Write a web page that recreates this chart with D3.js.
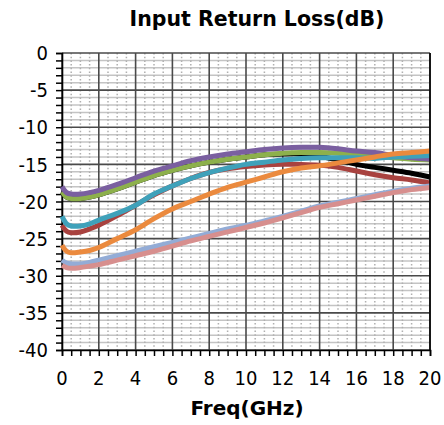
<!DOCTYPE html>
<html>
<head>
<meta charset="utf-8">
<script src="https://cdn.jsdelivr.net/npm/d3@7"></script>
<style>
  body { margin: 0; background: #fff; }
  svg text { font-family: "DejaVu Sans", sans-serif; }
</style>
</head>
<body>
<div id="chart"></div>
<script>
const freq = [0, 0.25, 0.5, 1, 1.5, 2, 3, 4, 5, 6, 7, 8, 9, 10, 11, 12, 13, 14, 15, 16, 17, 18, 19, 20];

const black  = [-18.7, -19.4, -19.6, -19.6, -19.4, -19.1, -18.3, -17.4, -16.5, -15.8, -15.2, -14.7, -14.3, -14.0, -13.7, -13.6, -13.6, -13.9, -14.4, -15.0, -15.4, -15.8, -16.2, -16.7];
const red    = [-23.2, -24.0, -24.2, -24.1, -23.7, -23.2, -21.9, -20.5, -19.1, -17.9, -16.9, -16.1, -15.6, -15.3, -15.1, -15.0, -15.0, -15.1, -15.4, -15.9, -16.4, -16.8, -17.1, -17.5];
const green  = [-18.7, -19.4, -19.6, -19.6, -19.4, -19.1, -18.3, -17.4, -16.5, -15.8, -15.2, -14.7, -14.3, -14.0, -13.7, -13.5, -13.4, -13.4, -13.5, -13.7, -13.9, -14.1, -14.3, -14.4];
const purple = [-18.0, -18.8, -19.0, -19.0, -18.8, -18.5, -17.7, -16.8, -15.9, -15.2, -14.5, -14.0, -13.6, -13.3, -13.0, -12.8, -12.7, -12.7, -12.9, -13.2, -13.4, -13.8, -14.1, -14.3];
const teal   = [-22.0, -23.0, -23.3, -23.3, -23.0, -22.5, -21.6, -20.5, -19.0, -17.9, -16.9, -16.1, -15.5, -15.0, -14.7, -14.4, -14.2, -14.1, -14.1, -14.1, -14.2, -14.0, -13.9, -13.8];
const orange = [-25.9, -26.7, -26.9, -26.8, -26.6, -26.2, -25.0, -23.8, -22.3, -21.0, -20.0, -19.0, -18.1, -17.4, -16.7, -16.0, -15.5, -15.2, -14.8, -14.4, -14.0, -13.6, -13.4, -13.2];
const blue   = [-27.9, -28.3, -28.4, -28.4, -28.2, -27.9, -27.3, -26.7, -26.1, -25.5, -24.9, -24.3, -23.7, -23.2, -22.6, -22.0, -21.3, -20.6, -20.1, -19.6, -19.1, -18.6, -18.2, -17.9];
const pink   = [-28.6, -28.9, -29.0, -28.9, -28.7, -28.5, -27.9, -27.3, -26.7, -26.0, -25.3, -24.7, -24.1, -23.5, -22.9, -22.2, -21.5, -20.8, -20.3, -19.8, -19.3, -18.8, -18.4, -18.1];

const series = [
  { values: black,  color: "#000000" },
  { values: red,    color: "#A8423F" },
  { values: green,  color: "#8DB04C" },
  { values: purple, color: "#7A5FA0" },
  { values: teal,   color: "#3FA1BA" },
  { values: orange, color: "#EB8A3E" },
  { values: blue,   color: "#93ACD6" },
  { values: pink,   color: "#D78F8E" }
];

const xTicks = d3.range(0, 21, 2);
const yTicks = d3.range(-40, 1, 5);

const margin = { top: 53, right: 14, bottom: 75, left: 62 };
const width = 444 - margin.left - margin.right;
const height = 425 - margin.top - margin.bottom;

const svg = d3.select("#chart")
  .append("svg")
  .attr("width", 444)
  .attr("height", 425);

const g = svg.append("g")
  .attr("transform", `translate(${margin.left},${margin.top})`);

const x = d3.scaleLinear().domain([0, 20]).range([0, width]);
const y = d3.scaleLinear().domain([-40, 0]).range([height, 0]);

// minor grid
g.append("g")
  .selectAll("line")
  .data(d3.range(-39, 0, 1).filter(d => d % 5 !== 0))
  .join("line")
  .attr("x1", 0).attr("x2", width)
  .attr("y1", d => y(d)).attr("y2", d => y(d))
  .attr("stroke", "#c4c4c4")
  .attr("stroke-width", 1.5);

g.append("g")
  .selectAll("line")
  .data(d3.range(0.5, 20, 0.5).filter(d => d % 2 !== 0))
  .join("line")
  .attr("x1", d => x(d)).attr("x2", d => x(d))
  .attr("y1", 0).attr("y2", height)
  .attr("stroke", "#b0b0b0")
  .attr("stroke-width", 1.5)
  .attr("stroke-dasharray", "1.5,2.2");

// major grid
g.append("g")
  .selectAll("line")
  .data(yTicks)
  .join("line")
  .attr("x1", 0).attr("x2", width)
  .attr("y1", d => y(d)).attr("y2", d => y(d))
  .attr("stroke", "#4a4a4a")
  .attr("stroke-width", 1.6);

g.append("g")
  .selectAll("line")
  .data(xTicks)
  .join("line")
  .attr("x1", d => x(d)).attr("x2", d => x(d))
  .attr("y1", 0).attr("y2", height)
  .attr("stroke", "#4a4a4a")
  .attr("stroke-width", 1.6);

// axes
const yAxis = g.append("g")
  .call(d3.axisLeft(y).tickValues(d3.range(-40, 1, 1)).tickSize(6).tickFormat(""));
const xAxis = g.append("g")
  .attr("transform", `translate(0,${height})`)
  .call(d3.axisBottom(x).tickValues(d3.range(0, 20.01, 0.5)).tickSize(6).tickFormat(""));

[yAxis, xAxis].forEach(a => {
  a.select(".domain").attr("stroke", "#000").attr("stroke-width", 1.6);
  a.selectAll(".tick line").attr("stroke", "#000").attr("stroke-width", 1.5);
});

g.selectAll(".ylab")
  .data(yTicks)
  .join("text")
  .attr("x", -14)
  .attr("y", d => y(d))
  .attr("dy", "0.36em")
  .attr("text-anchor", "end")
  .style("font-family", "'DejaVu Sans Condensed', 'DejaVu Sans', sans-serif")
  .style("font-size", "20px")
  .text(d => d);

g.selectAll(".xlab")
  .data(xTicks)
  .join("text")
  .attr("x", d => x(d))
  .attr("y", height + 35)
  .attr("text-anchor", "middle")
  .style("font-family", "'DejaVu Sans Condensed', 'DejaVu Sans', sans-serif")
  .style("font-size", "20px")
  .text(d => d);

// lines
const line = d3.line()
  .x((d, i) => x(freq[i]))
  .y(d => y(d))
  .curve(d3.curveCatmullRom.alpha(0.5));

g.append("g")
  .selectAll("path")
  .data(series)
  .join("path")
  .attr("fill", "none")
  .attr("stroke", d => d.color)
  .attr("stroke-width", 5)
  .attr("stroke-linejoin", "round")
  .attr("d", d => line(d.values));

// right border
g.append("line")
  .attr("x1", width).attr("x2", width)
  .attr("y1", 0).attr("y2", height)
  .attr("stroke", "#000")
  .attr("stroke-width", 1.6);

svg.append("text")
  .attr("x", 257)
  .attr("y", 26)
  .attr("text-anchor", "middle")
  .style("font-size", "20.5px")
  .style("font-weight", "bold")
  .text("Input Return Loss(dB)");

svg.append("text")
  .attr("x", 247)
  .attr("y", 415)
  .attr("text-anchor", "middle")
  .style("font-size", "20px")
  .style("font-weight", "bold")
  .text("Freq(GHz)");
</script>
</body>
</html>
